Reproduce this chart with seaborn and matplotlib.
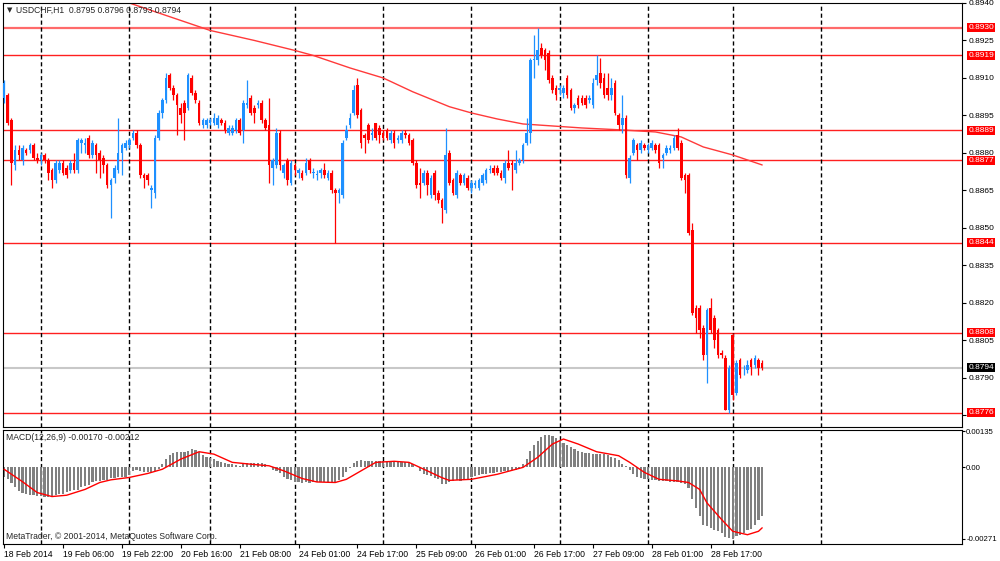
import numpy as np
import pandas as pd
import seaborn as sns
import matplotlib
matplotlib.use("Agg")
import matplotlib.pyplot as plt

# USDCHF H1 candles, prices in pips above 0.8800
opens = [102, 103, 93, 75, 81, 77, 81, 81, 83, 78,
         77, 79, 77, 73, 69, 73, 76, 74, 73, 76,
         73, 84, 83, 86, 79, 83, 80, 78, 75, 67,
         70, 73, 80, 82, 83, 86, 88, 83, 71, 71,
         65, 64, 86, 96, 101, 111, 106, 103, 98, 100,
         98, 110, 104, 100, 91, 91, 92, 92, 91, 93,
         92, 88, 88, 89, 93, 89, 99, 102, 98, 99,
         100, 93, 91, 74, 75, 88, 72, 77, 68, 75,
         72, 72, 72, 77, 72, 71, 72, 73, 70, 72,
         65, 64, 63, 86, 91, 96, 107, 97, 87, 91,
         87, 92, 90, 88, 89, 85, 88, 85, 85, 88,
         87, 85, 76, 68, 68, 72, 63, 72, 64, 61,
         57, 80, 69, 63, 71, 68, 70, 66, 67, 66,
         68, 69, 73, 74, 74, 72, 70, 76, 76, 73,
         76, 77, 84, 88, 117, 117, 122, 121, 120, 110,
         106, 105, 104, 110, 105, 98, 102, 102, 102, 101,
         99, 109, 112, 110, 106, 103, 108, 95, 91, 94,
         70, 80, 83, 81, 83, 81, 82, 83, 83, 78,
         80, 81, 82, 87, 84, 71, 71, 49, 18, 18,
         10, -1, 18, 14, 9, 0, -2, -23, 7, -16,
         -3, -7, -7, -3, -5, -3, -4]
closes = [108, 92, 76, 81, 79, 82, 80, 83, 78, 77,
          79, 77, 72, 69, 76, 76, 72, 71, 76, 73,
          85, 85, 84, 79, 84, 79, 77, 75, 67, 69,
          74, 80, 83, 84, 85, 88, 83, 71, 70, 69,
          66, 86, 96, 101, 110, 106, 103, 99, 95, 96,
          111, 104, 101, 92, 93, 93, 93, 94, 94, 92,
          89, 90, 90, 93, 88, 100, 100, 96, 96, 100,
          93, 90, 75, 77, 88, 75, 75, 69, 76, 73,
          73, 70, 76, 73, 72.5, 71.5, 73, 71, 72, 65,
          64, 65, 84, 89, 94, 105, 95, 84, 86, 85,
          88, 86, 87, 86, 86, 88, 84, 86, 88, 87,
          84, 76, 67, 67, 72, 67, 70, 63, 61, 58,
          79, 68, 64, 72, 68, 71, 66, 68, 68, 69,
          71, 73, 73.5, 72, 72, 70, 76, 74, 75, 76,
          77, 83, 88, 117, 117.5, 121, 119, 117, 109, 105,
          103, 106, 106, 103, 98, 99, 99, 100, 99, 102,
          108, 111, 108, 103, 103, 106, 96, 91, 94, 71,
          78, 85, 81, 84, 82, 83, 84, 81, 76, 79,
          82, 82, 86, 82, 70, 69, 48, 16, 14, 9,
          -1, 17, 9, 5, -1, -1, -23, -6, -17, -4,
          -9, -7, -5, -5.5, -2, -6, -6]
highs = [109, 104, 94, 83, 83, 83, 82, 84, 84, 80,
         80, 80, 78, 74, 77, 77, 77, 75, 77, 80,
         86, 86, 86, 87, 85, 84, 81, 79, 76, 70,
         75, 94, 84, 85, 86, 89, 89, 84, 72, 72,
         67, 87, 97, 102, 112, 112, 107, 104, 100, 101,
         112, 111, 105, 101, 94, 94, 94, 96, 95, 94,
         93, 91, 91, 94, 94, 101, 109, 103, 99, 101,
         101, 94, 102, 78, 90, 89, 76, 78, 77, 76,
         74, 73, 78, 78, 74, 73, 74, 76, 73, 73,
         66, 66, 85, 91, 96, 107, 110, 98, 88, 92,
         90, 92, 91, 89, 90, 89, 89, 87, 89, 89,
         88, 86, 77, 74, 73, 73, 71, 73, 65, 62,
         90, 81, 70, 73, 72, 72, 71, 69, 69, 70,
         72, 74, 75, 75, 75, 73, 77, 81, 77, 81,
         78, 84, 94, 118, 127, 130, 124, 122, 121, 111,
         107, 107, 107, 111, 106, 100, 103, 103, 103, 103,
         110, 119, 118, 112, 112, 110, 109, 96, 103, 95,
         79, 86, 84, 85, 84, 84, 85, 84, 84, 80,
         83, 83, 87, 90, 85, 72, 72, 52, 19, 19,
         11, 18, 22, 15, 10, 1, -1, -5, 8, -3,
         -2, -5, -3, -2, -1, -2, -3]
lows = [100, 91, 67, 73, 77, 75, 79, 80, 77, 76,
        75, 76, 69, 66, 68, 72, 71, 70, 72, 72,
        72, 80, 80, 78, 78, 72, 70, 72, 66, 54,
        68, 72, 71, 81, 82, 85, 82, 70, 66, 67,
        58, 62, 85, 94, 100, 105, 101, 87, 92, 85,
        97, 103, 100, 91, 90, 90, 91, 91, 90, 91,
        88, 87, 87, 88, 87, 84, 98, 95, 92, 98,
        92, 89, 68, 67, 74, 73, 70, 67, 67, 71,
        70, 69, 71, 72, 70, 69, 70, 70, 69, 64,
        44, 60, 62, 85, 90, 95, 94, 82, 80, 84,
        85, 85, 84, 85, 85, 84, 82, 84, 84, 86,
        83, 75, 66, 62, 67, 63, 62, 61, 60, 52,
        56, 67, 63, 62, 67, 67, 65, 64, 66, 65,
        67, 68, 72, 71, 71, 69, 68, 73, 65, 72,
        75, 76, 83, 84, 110, 115, 118, 113, 108, 104,
        101, 103, 102, 102, 97, 96, 98, 99, 98, 100,
        98, 107, 106, 102, 101, 101, 95, 89, 88, 70,
        68, 79, 77, 80, 81, 80, 81, 80, 74, 74,
        79, 80, 81, 81, 69, 64, 47, 15, 8, 6,
        -3, -12, 8, 2, -2, -2, -23, -24, -19, -17,
        -10, -9, -8, -9, -6, -9, -7]

# moving average (bar index, pips above 0.8800)
ma_bars = [28, 32, 56, 68, 79, 84, 94, 103, 111, 121, 127, 134, 141, 149, 157, 168, 177, 184, 190, 198, 206]
ma_pips = [143, 141, 129, 125, 121, 119, 114, 110, 104.5, 98.5, 96, 93.6, 91.6, 90.8, 90, 89.2, 88.4, 86.4, 82.4, 79.2, 75.2]

# MACD histogram, units of 0.00001
macd_hist = [-39, -45, -60, -75, -90, -97, -102, -104, -106, -108,
             -109, -111, -111, -110, -106, -103, -102, -95, -90, -88,
             -85, -75, -70, -66, -58, -53, -52, -50, -48, -42,
             -40, -39, -38, -36, -28, -14, -12, -14, -18, -20,
             -20, -16, -8, 10, 30, 45, 54, 56, 56, 57,
             60, 68, 66, 58, 45, 38, 35, 30, 22, 18,
             15, 12, 11, 8, 6, 13, 15, 16, 17, 16,
             15, 12, 2, -10, -16, -22, -38, -45, -48, -55,
             -58, -60, -58, -59, -57, -58, -56, -55, -55, -56,
             -55, -50, -39, -20, -2, 15, 24, 25, 24, 24,
             23, 24, 24, 22, 21, 20, 21, 20, 20, 21,
             18, 10, 2, -15, -27, -30, -35, -40, -46, -62,
             -65, -55, -52, -50, -52, -50, -50, -36, -32, -30,
             -27, -25, -23, -21, -20, -18, -16, -14, -12, -10,
             -6, 10, 30, 60, 85, 100, 112, 122, 120, 118,
             110, 100, 90, 82, 75, 68, 62, 57, 54, 52,
             50, 49, 50, 48, 45, 40, 36, 25, 12, 5,
             -10, -25, -36, -42, -45, -46, -48, -50, -52, -52,
             -53, -55, -57, -58, -60, -63, -80, -122, -153, -185,
             -217, -222, -230, -236, -240, -248, -262, -267, -270, -258,
             -255, -250, -238, -232, -220, -198, -185]

# MACD signal line (bar index, units of 0.00001)
sig_bars = [0, 5, 9, 13, 17, 22, 26, 29, 34, 39, 43, 48, 53, 57, 62, 67, 72, 76, 81, 85,
            90, 93, 97, 101, 106, 110, 115, 119, 121, 127, 134, 141, 145, 149, 152, 156, 161,
            167, 170, 174, 178, 183, 186, 189, 191, 195, 198, 202, 205, 206]
sig_vals = [-8, -55, -96, -111, -106, -84, -58, -48, -39, -24, -8, 30, 58, 49, 18, 11, 5, -14, -43, -56,
            -58, -46, -14, 18, 22, 18, -14, -40, -50, -46, -27, -1, 37, 87, 106, 87, 58,
            43, 18, -20, -46, -52, -58, -84, -135, -198, -242, -255, -242, -229]

levels = [0.8930, 0.8919, 0.8889, 0.8877, 0.8844, 0.8808, 0.8776]
last_price = 0.8794
price_ticks = [0.8775, 0.8790, 0.8805, 0.8820, 0.8835, 0.8850, 0.8865, 0.8880, 0.8895, 0.8910, 0.8925, 0.8940]
separators = [10, 34, 56, 79, 103, 127, 151, 175, 198, 222]
time_ticks = [0, 16, 32, 48, 64, 80, 96, 112, 128, 144, 160, 176, 192]
time_labels = ['18 Feb 2014', '19 Feb 06:00', '19 Feb 22:00', '20 Feb 16:00', '21 Feb 08:00',
               '24 Feb 01:00', '24 Feb 17:00', '25 Feb 09:00', '26 Feb 01:00', '26 Feb 17:00',
               '27 Feb 09:00', '28 Feb 01:00', '28 Feb 17:00']

sns.set_style("white")
plt.rcParams['font.family'] = ['Liberation Sans', 'DejaVu Sans']

df = pd.DataFrame({'open': opens, 'high': highs, 'low': lows, 'close': closes})
df = df / 10000 + 0.88
df['bar'] = np.arange(len(df))
up = df['close'] >= df['open']
colors = np.where(up, '#1E90FF', '#FF0000')

fig = plt.figure(figsize=(10, 5.61), dpi=100)
ax = fig.add_axes([0.003, 0.2394, 0.959, 0.7558])
axm = fig.add_axes([0.003, 0.0303, 0.959, 0.2032])

# price panel
ax.axhline(last_price, color='#C8C8C8', lw=1.5, zorder=0.5)
for lv in levels:
    ax.axhline(lv, color='#FF6A6A' if lv == 0.8930 else '#FF2020',
               lw=1.6 if lv == 0.8930 else 1.0, zorder=1)
for s in separators:
    ax.axvline(s, color='black', lw=1, ls=(0, (3, 2)), zorder=1)
    axm.axvline(s, color='black', lw=1, ls=(0, (3, 2)), zorder=1)

ax.vlines(df['bar'], df['low'], df['high'], colors=colors, lw=0.9, zorder=3)
body_low = np.minimum(df['open'], df['close'])
body_h = np.maximum((df['close'] - df['open']).abs(), 0.00003)
ax.bar(df['bar'], body_h, bottom=body_low, width=0.7, color=colors, linewidth=0, zorder=3)

ma = pd.DataFrame({'bar': ma_bars, 'price': np.array(ma_pips) / 10000 + 0.88})
sns.lineplot(data=ma, x='bar', y='price', ax=ax, color='#FF3A3A', lw=1, zorder=2)

ax.set_xlim(-0.3, 260.3)
ax.set_ylim(0.877052, 0.89401)
ax.set_xlabel('')
ax.set_ylabel('')
ax.yaxis.tick_right()
ax.set_yticks(price_ticks)
# the lowest tick label sits under the 0.8776 tag, as in MetaTrader
ax.set_yticklabels([''] + [f'{t:.4f}' for t in price_ticks[1:]])
ax.tick_params(axis='y', right=True, length=3, width=0.8, labelsize=6, pad=1.5, colors='black')
ax.tick_params(axis='x', bottom=False, labelbottom=False)

for lv in levels:
    ax.text(1.0065, lv, f'{lv:.4f}', transform=ax.get_yaxis_transform(), color='white',
            fontsize=6, va='center', ha='left', zorder=10, clip_on=False,
            bbox=dict(boxstyle='square,pad=0.12', fc='#FF0000', ec='none'))
ax.text(1.0065, last_price, f'{last_price:.4f}', transform=ax.get_yaxis_transform(), color='white',
        fontsize=6, va='center', ha='left', zorder=10, clip_on=False,
        bbox=dict(boxstyle='square,pad=0.12', fc='black', ec='none'))

ax.text(0.004, 0.983, '\u25bc', transform=ax.transAxes, fontsize=5, va='center', ha='left',
        family='DejaVu Sans')
ax.text(0.0135, 0.983, 'USDCHF,H1  0.8795 0.8796 0.8793 0.8794', transform=ax.transAxes,
        fontsize=6.2, va='center', ha='left')

# MACD panel
axm.bar(np.arange(len(macd_hist)), np.array(macd_hist) / 100000, width=0.6,
        color='#808080', linewidth=0, zorder=2)
sig = pd.DataFrame({'bar': sig_bars, 'val': np.array(sig_vals) / 100000})
sns.lineplot(data=sig, x='bar', y='val', ax=axm, color='#FF0000', lw=1, zorder=3)
axm.set_xlim(-0.3, 260.3)
axm.set_ylim(-0.0029, 0.0014)
axm.set_xlabel('')
axm.set_ylabel('')
axm.yaxis.tick_right()
axm.set_yticks([0.00135, 0.0, -0.00271])
axm.set_yticklabels(['0.00135', '0.00', '-0.00271'])
axm.tick_params(axis='y', right=True, length=2, width=0.8, labelsize=5.6, pad=1, colors='black')
axm.set_xticks(time_ticks)
axm.set_xticklabels(time_labels, ha='left')
axm.tick_params(axis='x', bottom=True, length=3, width=0.8, labelsize=6.2, pad=1, colors='black')

axm.text(0.003, 0.935, 'MACD(12,26,9) -0.00170 -0.00212', transform=axm.transAxes,
         fontsize=6.2, va='center', ha='left')
axm.text(0.003, 0.07, 'MetaTrader, \u00a9 2001-2014, MetaQuotes Software Corp.', transform=axm.transAxes,
         fontsize=6.2, va='center', ha='left')

for a in (ax, axm):
    for sp in a.spines.values():
        sp.set_color('black')
        sp.set_linewidth(0.8)

fig.savefig('out.png', dpi=100, facecolor='white')
